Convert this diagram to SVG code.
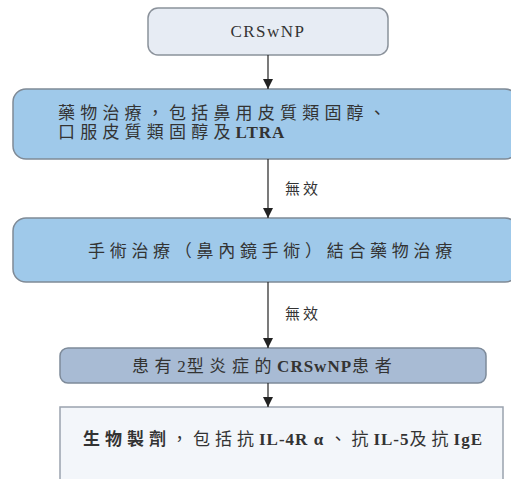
<svg xmlns="http://www.w3.org/2000/svg" width="511" height="479" viewBox="0 0 511 479">
<style>
.t{font-family:"Liberation Serif","Noto Sans CJK TC",serif;fill:#333;}
.c{stroke:#222;stroke-width:1.2;fill:none;}
.lbl{font-family:"Liberation Serif","Noto Sans CJK TC",serif;fill:#333;font-size:15px;letter-spacing:3px;}
.lat{letter-spacing:1px;}
</style>
<defs>
<marker id="ah" viewBox="0 0 10 10" refX="10" refY="5" markerWidth="10" markerHeight="10" markerUnits="userSpaceOnUse" orient="auto">
<path d="M0,0 L10,5 L0,10 z" fill="#222"/>
</marker>
</defs>
<rect width="511" height="479" fill="#fff"/>
<g id="n1">
<rect x="148" y="8" width="240" height="47" rx="10" fill="#e7ecf4" stroke="#8b929b" stroke-width="1.5"/>
<text class="t" x="268" y="37" font-size="17" text-anchor="middle" letter-spacing="1.5">CRSwNP</text>
</g>
<g id="n2">
<rect x="13" y="89" width="505" height="70" rx="13" fill="#9fc9ea" stroke="#7f8a96" stroke-width="1.5"/>
<text class="t" x="58" y="118.5" font-size="17" letter-spacing="5.2">藥物治療，包括鼻用皮質類固醇、</text>
<text class="t" x="58" y="137.5" font-size="17" letter-spacing="5.2">口服皮質類固醇及<tspan letter-spacing="1" font-size="17" font-weight="bold">LTRA</tspan></text>
</g>
<g id="n3">
<rect x="13" y="218" width="505" height="64" rx="13" fill="#9fc9ea" stroke="#7f8a96" stroke-width="1.5"/>
<text class="t" x="88" y="256.5" font-size="17" letter-spacing="4.7">手術治療（鼻內鏡手術）結合藥物治療</text>
</g>
<g id="n4">
<rect x="60" y="348" width="426" height="35" rx="8" fill="#a8bbd4" stroke="#7d8a99" stroke-width="1.5"/>
<text class="t" x="132" y="371.5" font-size="17" letter-spacing="5.6">患有<tspan class="lat">2</tspan>型炎症的<tspan class="lat" font-weight="bold">CRSwNP</tspan>患者</text>
</g>
<g id="n5">
<rect x="60" y="407" width="443" height="90" fill="#f3f6fa" stroke="#9aa3ae" stroke-width="1.5"/>
<text class="t" x="83" y="444.5" font-size="17" letter-spacing="5"><tspan font-weight="bold">生物製劑</tspan>，包括抗<tspan class="lat" font-weight="bold">IL-4R α </tspan>、抗<tspan class="lat" font-weight="bold">IL-5</tspan>及抗<tspan class="lat" font-weight="bold">IgE</tspan></text>
</g>
<g id="connectors">
<line class="c" x1="268" y1="55" x2="268" y2="89" marker-end="url(#ah)"/>
<line class="c" x1="268" y1="159" x2="268" y2="218" marker-end="url(#ah)"/>
<line class="c" x1="268" y1="282" x2="268" y2="348" marker-end="url(#ah)"/>
<line class="c" x1="268" y1="383" x2="268" y2="407" marker-end="url(#ah)"/>
<text class="lbl" x="285" y="194">無效</text>
<text class="lbl" x="285" y="319">無效</text>
</g>
</svg>
